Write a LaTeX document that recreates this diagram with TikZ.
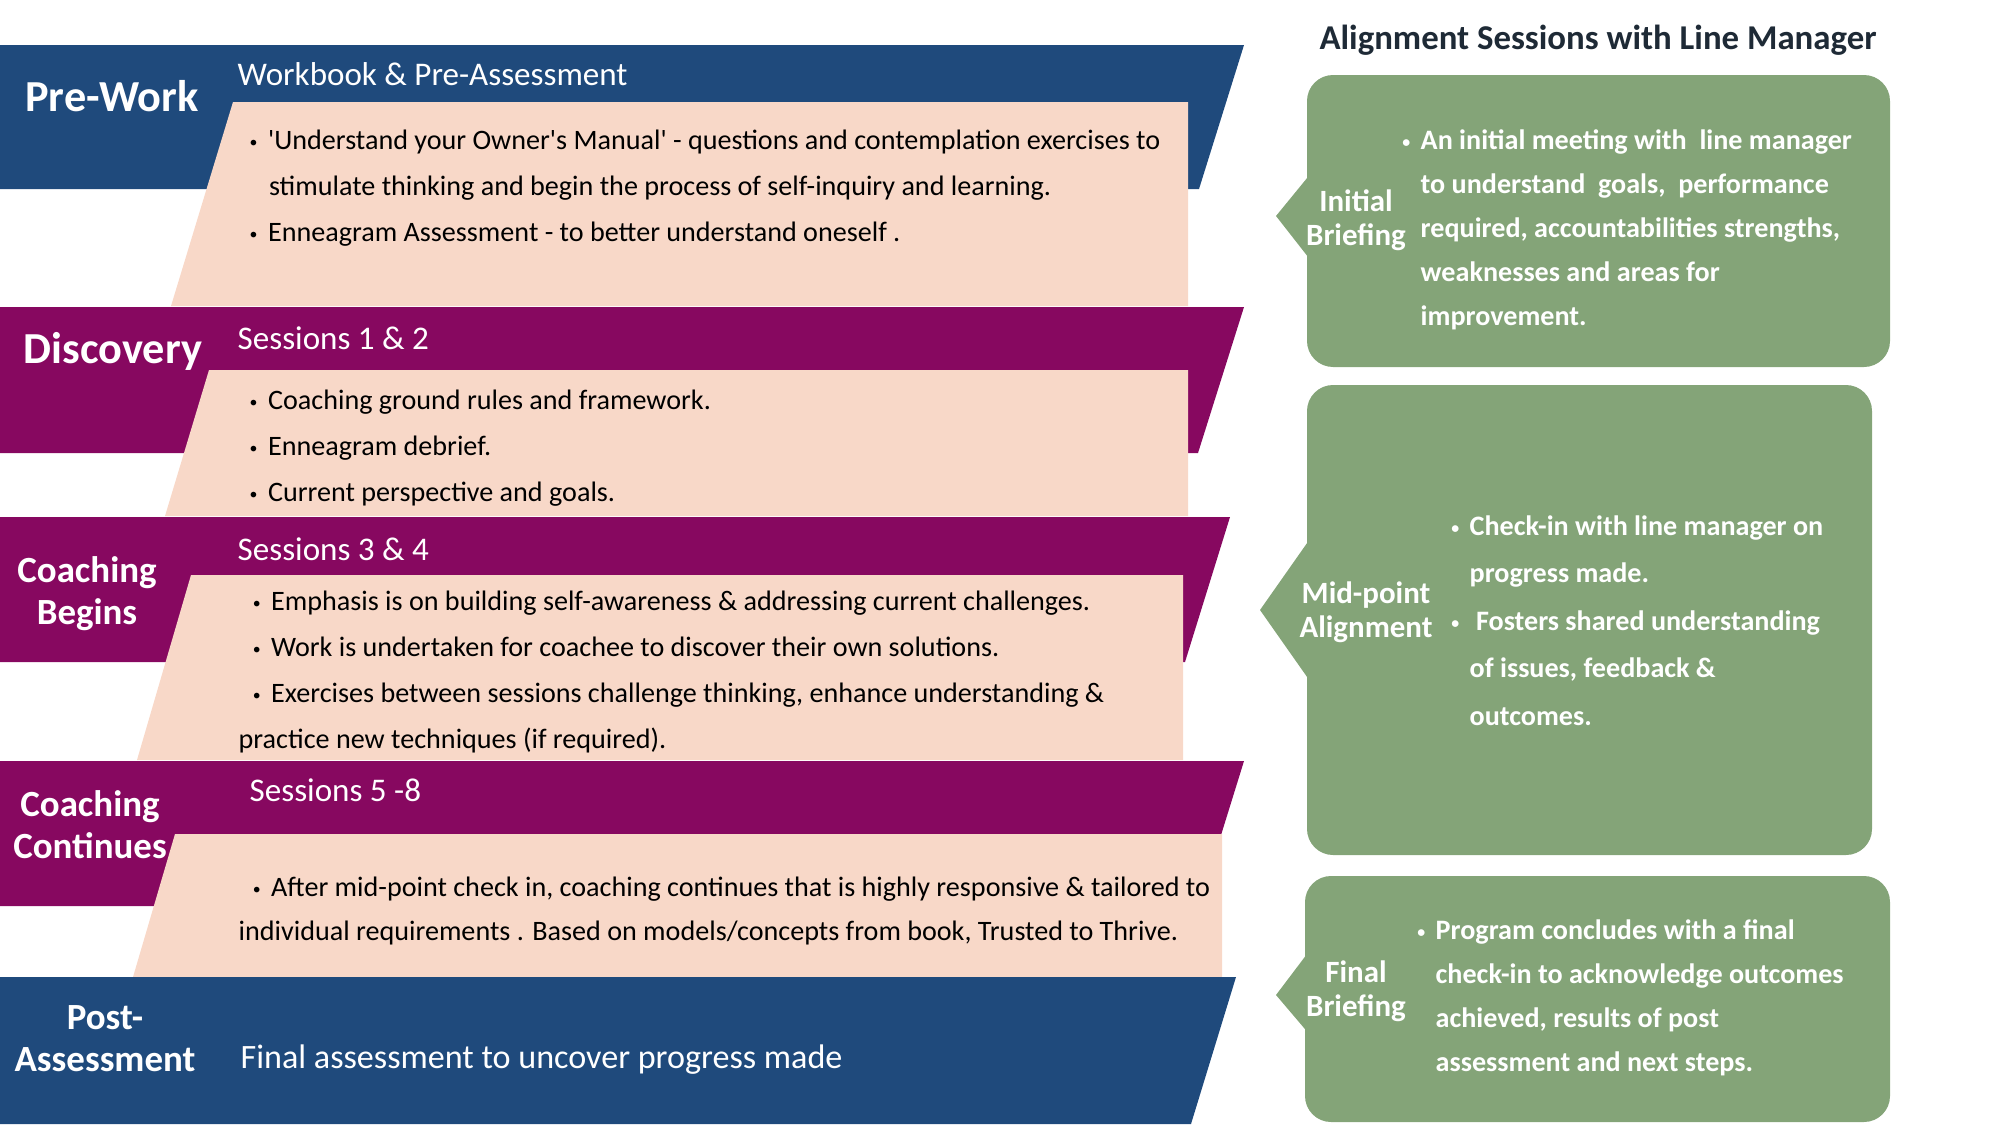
\documentclass[tikz,border=0pt]{standalone}
\usepackage{fontspec}
\setmainfont{Carlito}
\definecolor{phaseblue}{HTML}{1F4A7C}
\definecolor{phasepurple}{HTML}{870860}
\definecolor{peach}{HTML}{F8D8C8}
\definecolor{sage}{HTML}{84A478}
\definecolor{titleink}{HTML}{1E2A36}
\newcommand\bul{\raisebox{0.6pt}{\fontsize{4.5}{4.5}\selectfont•}\hspace{3pt}}
\begin{document}
\begin{tikzpicture}[x=0.01cm,y=-0.01cm,
  lab/.style={text=white,font=\bfseries\fontsize{12.6}{14}\selectfont,align=center,inner sep=0},
  labsm/.style={text=white,font=\bfseries\fontsize{10.5}{11.9}\selectfont,align=center,inner sep=0},
  head/.style={text=white,font=\fontsize{9.4}{11}\selectfont,anchor=west,inner sep=0},
  item/.style={font=\fontsize{8}{13.1}\selectfont,align=left,anchor=north west,inner sep=0},
  note/.style={text=white,font=\bfseries\fontsize{8}{12.5}\selectfont,align=left,anchor=north west,inner sep=0},
  notelab/.style={text=white,font=\bfseries\fontsize{8.8}{9.7}\selectfont,align=center,inner sep=0}]
  \useasboundingbox (0,0) rectangle (2000,1124);
  % phase bands
  \fill[phaseblue] (0,45) -- (1244,45) -- (1199,189) -- (0,189) -- cycle;
  \fill[peach] (233,102) -- (1188,102) -- (1188,306) -- (171,306) -- cycle;
  \fill[phasepurple] (0,307) -- (1244,307) -- (1198,453) -- (0,453) -- cycle;
  \fill[peach] (209,370) -- (1188,370) -- (1188,516) -- (165,516) -- cycle;
  \fill[phasepurple] (0,517) -- (1230,517) -- (1185,662) -- (0,662) -- cycle;
  \fill[peach] (191,575) -- (1183,575) -- (1183,760) -- (137,760) -- cycle;
  \fill[phasepurple] (0,761) -- (1244,761) -- (1199,906) -- (0,906) -- cycle;
  \fill[peach] (175,834) -- (1222,834) -- (1222,977) -- (133,977) -- cycle;
  \fill[phaseblue] (0,977) -- (1236,977) -- (1191,1124) -- (0,1124) -- cycle;

  \node[lab] (prework) at (112,96) {Pre-Work};
  \node[lab] (discovery) at (113,351) {Discovery};
  \node[labsm] (begins) at (87,594) {Coaching\\Begins};
  \node[labsm] (continues) at (90,825) {Coaching\\Continues};
  \node[labsm] (post) at (105,1039) {Post-\\Assessment};

  \node[head] (workbook) at (237,74) {Workbook \& Pre-Assessment};
  \node[head] (s12) at (237,338) {Sessions 1 \& 2};
  \node[head] (s34) at (237,549) {Sessions 3 \& 4};
  \node[head] (s58) at (249,790) {Sessions 5 -8};

  \node[item] (prelist) at (249,129) {\bul\textquotesingle Understand your Owner\textquotesingle s Manual\textquotesingle\ - questions and contemplation exercises to\\
    \hspace*{5.5pt}stimulate thinking and begin the process of self-inquiry and learning.\\
    \bul Enneagram Assessment - to better understand oneself .};
  \node[item] (disclist) at (249,389) {\bul Coaching ground rules and framework.\\
    \bul Enneagram debrief.\\
    \bul Current perspective and goals.};
  \node[item] (beginlist) at (238,590) {\hspace*{4pt}\bul Emphasis is on building self-awareness \& addressing current challenges.\\
    \hspace*{4pt}\bul Work is undertaken for coachee to discover their own solutions.\\
    \hspace*{4pt}\bul Exercises between sessions challenge thinking, enhance understanding \&\\
    practice new techniques (if required).};
  \node[item,font=\fontsize{8}{12.6}\selectfont] (contlist) at (238,876) {\hspace*{4pt}\bul After mid-point check in, coaching continues that is highly responsive \& tailored to\\
    individual requirements . Based on models/concepts from book, Trusted to Thrive.};
  \node[head,font=\fontsize{9.7}{11}\selectfont] (final) at (240,1060) {Final assessment to uncover progress made};

  % alignment sessions
  \node[text=titleink,font=\bfseries\fontsize{9.9}{12}\selectfont] (title) at (1598,40) {Alignment Sessions with Line Manager};

  \fill[sage,rounded corners=7.4pt] (1307,75) rectangle (1890,367);
  \fill[sage] (1312,172) -- (1276,216) -- (1312,262) -- cycle;
  \fill[sage,rounded corners=7.4pt] (1307,385) rectangle (1872,855);
  \fill[sage] (1312,536) -- (1260,610) -- (1312,684) -- cycle;
  \fill[sage,rounded corners=7.4pt] (1305,876) rectangle (1890,1122);
  \fill[sage] (1310,950) -- (1276,995) -- (1310,1035) -- cycle;

  \node[notelab] (initial) at (1356,220) {Initial\\Briefing};
  \node[notelab] (midpoint) at (1366,612) {Mid-point\\Alignment};
  \node[notelab] (finalbrief) at (1356,991) {Final\\Briefing};

  \node[note] (initlist) at (1420,129) {\llap{\bul}An initial meeting with \ line manager\\
    to understand \ goals, \ performance\\
    required, accountabilities strengths,\\
    weaknesses and areas for\\
    improvement.};
  \node[note,font=\bfseries\fontsize{8}{13.5}\selectfont] (midlist) at (1469,515) {\llap{\bul}Check-in with line manager on\\
    progress made.\\
    \llap{\bul}\ Fosters shared understanding\\
    of issues, feedback \&\\
    outcomes.};
  \node[note] (finallist) at (1435,919) {\llap{\bul}Program concludes with a final\\
    check-in to acknowledge outcomes\\
    achieved, results of post\\
    assessment and next steps.};
\end{tikzpicture}
\end{document}
